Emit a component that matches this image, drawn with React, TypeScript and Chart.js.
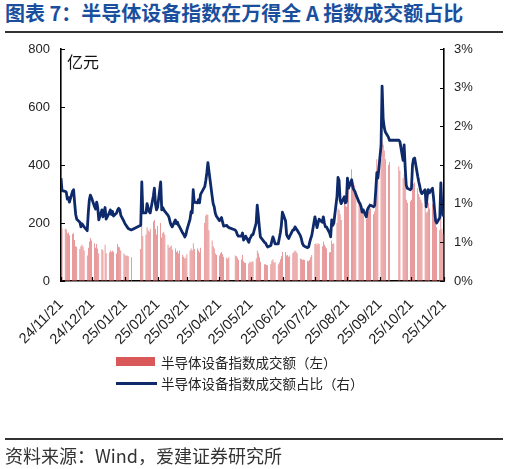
import React, { useEffect, useRef } from "react";
import { Chart, registerables } from "chart.js";

Chart.register(...registerables);

// Trading calendar: weekdays from 2024-11-21 to 2025-11-21, minus exchange holidays
const startDay = "2024-11-21";
const endDay = "2025-11-21";
const holidays = [
  "2025-01-01", "2025-01-28", "2025-01-29", "2025-01-30", "2025-01-31", "2025-02-03", "2025-02-04",
  "2025-04-04", "2025-05-01", "2025-05-02", "2025-05-05", "2025-06-02",
  "2025-10-01", "2025-10-02", "2025-10-03", "2025-10-06", "2025-10-07", "2025-10-08",
];

// x-axis tick labels (one per month)
const xTickLabels = [
  "24/11/21", "24/12/21", "25/01/21", "25/02/21", "25/03/21", "25/04/21", "25/05/21",
  "25/06/21", "25/07/21", "25/08/21", "25/09/21", "25/10/21", "25/11/21",
];

// 半导体设备指数成交额（亿元）
const turnover = [
  206, 181, 180, 178, 164, 167, 158, // 2024-11
  162, 165, 141, 120, 118, 110, 120, 125, 118, 105, 88, 115, 136, 148, 140, 130, 115, 128, 112, 95, 110, 105, // 2024-12
  125, 96, 98, 105, 100, 104, 100, 95, 128, 118, 116, 105, 95, 90, 86, 88, 85, 82, // 2025-01
  110, 190, 155, 160, 185, 175, 170, 180, 205, 210, 180, 160, 190, 200, 150, 165, 170, 160, // 2025-02
  125, 115, 118, 122, 108, 112, 100, 104, 95, 105, 90, 84, 78, 80, 92, 105, 112, 105, 130, 110, 112, // 2025-03
  105, 98, 115, 200, 225, 230, 228, 175, 140, 120, 112, 95, 90, 88, 96, 100, 92, 84, 80, 78, 82, // 2025-04
  88, 85, 80, 72, 74, 90, 68, 64, 62, 60, 66, 64, 66, 68, 78, 105, 96, 82, 66, // 2025-05
  58, 58, 55, 54, 58, 70, 75, 65, 64, 58, 65, 75, 85, 100, 100, 88, 90, 84, 88, 96, // 2025-06
  100, 105, 102, 96, 78, 76, 72, 74, 72, 70, 68, 72, 82, 90, 128, 130, 125, 130, 128, 120, 135, 125, 118, // 2025-07
  112, 98, 100, 140, 128, 130, 200, 250, 245, 230, 210, 290, 260, 255, 330, 320, 385, 350, 340, 330, 310, // 2025-08
  270, 265, 250, 245, 230, 215, 235, 240, 270, 250, 230, 240, 305, 420, 360, 420, 480, 470, 450, 420, 400, 410, // 2025-09
  395, 380, 355, 370, 330, 280, 270, 275, 280, 320, 335, 340, 320, 300, 290, 280, 270, // 2025-10
  260, 235, 240, 270, 250, 265, 240, 220, 200, 185, 175, 230, 180, 165, 160, // 2025-11
];

// 半导体设备指数成交额占万得全A比例（%）
const ratio = [
  1.33, 1.17, 1.16, 1.15, 1.06, 1.08, 1.02, // 2024-11
  1.16, 1.18, 1.01, 0.86, 0.8, 0.76, 0.7, 0.74, 0.72, 0.7, 0.65, 0.88, 1.05, 1.11, 1.08, 0.96, 0.93, 1.02, 0.95, 0.79, 0.92, 0.83, // 2024-12
  0.95, 0.8, 0.88, 0.92, 0.86, 0.9, 0.84, 0.88, 0.92, 0.94, 0.92, 0.85, 0.77, 0.74, 0.72, 0.7, 0.68, 0.66, // 2025-01
  0.72, 1.28, 0.88, 0.88, 1.0, 0.95, 0.9, 0.88, 1.1, 1.2, 1.0, 0.92, 0.95, 1.28, 0.92, 0.95, 0.92, 0.9, // 2025-02
  0.85, 0.82, 0.76, 0.72, 0.7, 0.79, 0.74, 0.76, 0.72, 0.7, 0.62, 0.6, 0.57, 0.6, 0.66, 0.8, 0.9, 0.88, 1.18, 1.02, 1.01, // 2025-03
  1.05, 1.01, 1.12, 1.22, 1.3, 1.4, 1.53, 1.42, 1.1, 1.0, 0.96, 0.88, 0.84, 0.78, 0.8, 0.82, 0.76, 0.71, 0.72, 0.7, 0.69, // 2025-04
  0.66, 0.64, 0.6, 0.58, 0.58, 0.62, 0.53, 0.55, 0.58, 0.5, 0.55, 0.57, 0.6, 0.6, 0.75, 0.98, 0.85, 0.7, 0.57, // 2025-05
  0.5, 0.49, 0.46, 0.44, 0.46, 0.52, 0.57, 0.53, 0.48, 0.48, 0.55, 0.62, 0.72, 0.89, 0.78, 0.6, 0.57, 0.55, 0.58, 0.66, // 2025-06
  0.66, 0.7, 0.68, 0.66, 0.59, 0.55, 0.49, 0.46, 0.45, 0.43, 0.44, 0.5, 0.55, 0.59, 0.83, 0.76, 0.69, 0.75, 0.8, 0.76, 0.83, 0.75, 0.7, // 2025-07
  0.7, 0.62, 0.57, 0.79, 0.72, 0.75, 1.09, 1.34, 1.3, 1.05, 1.0, 1.09, 1.01, 1.03, 1.33, 1.2, 1.31, 1.22, 1.18, 1.16, 1.12, // 2025-08
  1.02, 1.0, 0.96, 0.89, 0.92, 0.83, 0.92, 0.95, 0.97, 0.98, 0.96, 0.98, 1.18, 1.4, 1.33, 1.75, 2.52, 2.1, 1.99, 1.93, 1.86, 1.82, // 2025-09
  1.82, 1.8, 1.56, 1.76, 1.47, 1.24, 1.2, 1.18, 1.2, 1.5, 1.58, 1.59, 1.35, 1.28, 1.22, 1.15, 1.13, // 2025-10
  1.18, 0.96, 1.1, 1.18, 1.14, 1.2, 1.08, 0.92, 0.78, 0.75, 0.82, 1.27, 0.95, 0.85, 0.85, // 2025-11
];

const barLabel = "半导体设备指数成交额（左）";
const lineLabel = "半导体设备指数成交额占比（右）";
const titleText = "图表 7：半导体设备指数在万得全 A 指数成交额占比";
const sourceText = "资料来源：Wind，爱建证券研究所";
const unitText = "亿元";

const DAY = 86400000;
const isoToUtc = (s: string) => {
  const [y, m, d] = s.split("-").map(Number);
  return Date.UTC(y, m - 1, d);
};
const t0 = isoToUtc(startDay);
const t1 = isoToUtc(endDay);

function tradingOffsets(): number[] {
  const out: number[] = [];
  for (let t = t0; t <= t1; t += DAY) {
    const dt = new Date(t);
    const wd = dt.getUTCDay();
    if (wd === 0 || wd === 6) continue;
    if (holidays.includes(dt.toISOString().slice(0, 10))) continue;
    out.push((t - t0) / DAY);
  }
  return out;
}

const tickOffsets = xTickLabels.map((l) => {
  const [yy, mm, dd] = l.split("/").map(Number);
  return (Date.UTC(2000 + yy, mm - 1, dd) - t0) / DAY;
});

const BAR_COLOR = "#D9585A";
const LINE_COLOR = "#0E2A6B";
const AXIS_FONT = "'Liberation Sans', Arial, sans-serif";
const CJK_FONT = "'Noto Sans CJK SC', 'Noto Sans', sans-serif";

const inwardTicks = {
  id: "inwardTicks",
  afterDraw(chart: any) {
    const { ctx, chartArea, scales } = chart;
    const len = 4;
    ctx.save();
    ctx.strokeStyle = "#000";
    ctx.lineWidth = 1.2;
    ctx.beginPath();
    scales.y.ticks.forEach((t: any) => {
      const py = Math.round(scales.y.getPixelForValue(t.value)) + 0.5;
      ctx.moveTo(chartArea.left, py);
      ctx.lineTo(chartArea.left + len, py);
    });
    scales.y1.ticks.forEach((t: any) => {
      const py = Math.round(scales.y1.getPixelForValue(t.value)) + 0.5;
      ctx.moveTo(chartArea.right, py);
      ctx.lineTo(chartArea.right - len, py);
    });
    scales.x.ticks.forEach((t: any) => {
      const px = Math.round(scales.x.getPixelForValue(t.value)) + 0.5;
      ctx.moveTo(px, chartArea.bottom);
      ctx.lineTo(px, chartArea.bottom - len);
    });
    ctx.stroke();
    ctx.restore();
  },
};

export default function App() {
  const canvasRef = useRef<HTMLCanvasElement | null>(null);

  useEffect(() => {
    if (!canvasRef.current) return;
    const xs = tradingOffsets();
    const barData = turnover.map((v, i) => ({ x: xs[i], y: v }));
    const lineData = ratio.map((v, i) => ({ x: xs[i], y: v }));

    const chart = new Chart(canvasRef.current, {
      type: "bar",
      data: {
        datasets: [
          {
            type: "line",
            label: lineLabel,
            data: lineData,
            yAxisID: "y1",
            borderColor: LINE_COLOR,
            backgroundColor: LINE_COLOR,
            borderWidth: 2.8,
            pointRadius: 0,
            tension: 0,
            borderJoinStyle: "round",
            order: 0,
          } as any,
          {
            type: "bar",
            label: barLabel,
            data: barData,
            yAxisID: "y",
            backgroundColor: BAR_COLOR,
            barThickness: 0.6,
            inflateAmount: 0,
            borderWidth: 0,
            order: 1,
          } as any,
        ],
      },
      options: {
        responsive: false,
        animation: false,
        layout: { padding: { top: 49, left: 0, right: 0, bottom: 0 } },
        plugins: {
          legend: { display: false },
          tooltip: { enabled: false },
          title: { display: false },
        },
        scales: {
          x: {
            type: "linear",
            min: 0,
            max: tickOffsets[tickOffsets.length - 1],
            offset: false,
            grid: { display: false, drawTicks: false },
            border: { display: true, color: "#000", width: 1.6 },
            afterBuildTicks: (scale: any) => {
              scale.ticks = tickOffsets.map((v) => ({ value: v }));
            },
            afterFit: (scale: any) => {
              scale.height = 469 - 281;
            },
            ticks: {
              autoSkip: false,
              minRotation: 45,
              maxRotation: 45,
              padding: 15,
              color: "#222",
              font: { family: AXIS_FONT, size: 14.5 },
              callback: (_v: any, i: number) => xTickLabels[i],
            },
          },
          y: {
            type: "linear",
            position: "left",
            min: 0,
            max: 800,
            grid: { display: false, drawTicks: false },
            border: { display: true, color: "#000", width: 1.6 },
            afterFit: (scale: any) => {
              scale.width = 61;
            },
            ticks: {
              stepSize: 200,
              padding: 11,
              color: "#222",
              font: { family: AXIS_FONT, size: 13 },
            },
          },
          y1: {
            type: "linear",
            position: "right",
            min: 0,
            max: 3,
            grid: { display: false, drawTicks: false },
            border: { display: true, color: "#000", width: 1.6 },
            afterFit: (scale: any) => {
              scale.width = 508 - 444;
            },
            ticks: {
              stepSize: 0.5,
              padding: 10,
              color: "#222",
              font: { family: AXIS_FONT, size: 13 },
              callback: (v: any) => Math.round(Number(v)) + "%",
            },
          },
        },
      },
      plugins: [inwardTicks],
    });
    return () => chart.destroy();
  }, []);

  const abs = (s: React.CSSProperties): React.CSSProperties => ({ position: "absolute", ...s });

  return (
    <div style={abs({ left: 0, top: 0, width: 508, height: 469, background: "#fff", overflow: "hidden" })}>
      <div
        style={abs({
          left: 5,
          top: 3,
          fontFamily: CJK_FONT,
          fontWeight: 700,
          fontSize: 20,
          lineHeight: "20px",
          color: "#1A4F9E",
          whiteSpace: "nowrap",
        })}
      >
        {titleText}
      </div>
      <div style={abs({ left: 5, top: 31, width: 498, height: 1.5, background: "#333" })} />
      <canvas ref={canvasRef} width={508} height={469} style={abs({ left: 0, top: 0, width: 508, height: 469 })} />
      <div style={abs({ left: 67, top: 52, fontFamily: CJK_FONT, fontSize: 16, lineHeight: "18px", color: "#111" })}>
        {unitText}
      </div>
      <div style={abs({ left: 116, top: 357, width: 39, height: 9, background: BAR_COLOR })} />
      <div
        style={abs({
          left: 161,
          top: 353,
          fontFamily: CJK_FONT,
          fontSize: 13.5,
          lineHeight: "18px",
          color: "#222",
          whiteSpace: "nowrap",
        })}
      >
        {barLabel}
      </div>
      <div style={abs({ left: 116, top: 382, width: 41, height: 3, background: LINE_COLOR })} />
      <div
        style={abs({
          left: 161,
          top: 374,
          fontFamily: CJK_FONT,
          fontSize: 13.5,
          lineHeight: "18px",
          color: "#222",
          whiteSpace: "nowrap",
        })}
      >
        {lineLabel}
      </div>
      <div style={abs({ left: 5, top: 438, width: 498, height: 1.5, background: "#333" })} />
      <div
        style={abs({
          left: 5,
          top: 444,
          fontFamily: CJK_FONT,
          fontSize: 18,
          lineHeight: "22px",
          color: "#333",
          whiteSpace: "nowrap",
        })}
      >
        {sourceText}
      </div>
    </div>
  );
}
